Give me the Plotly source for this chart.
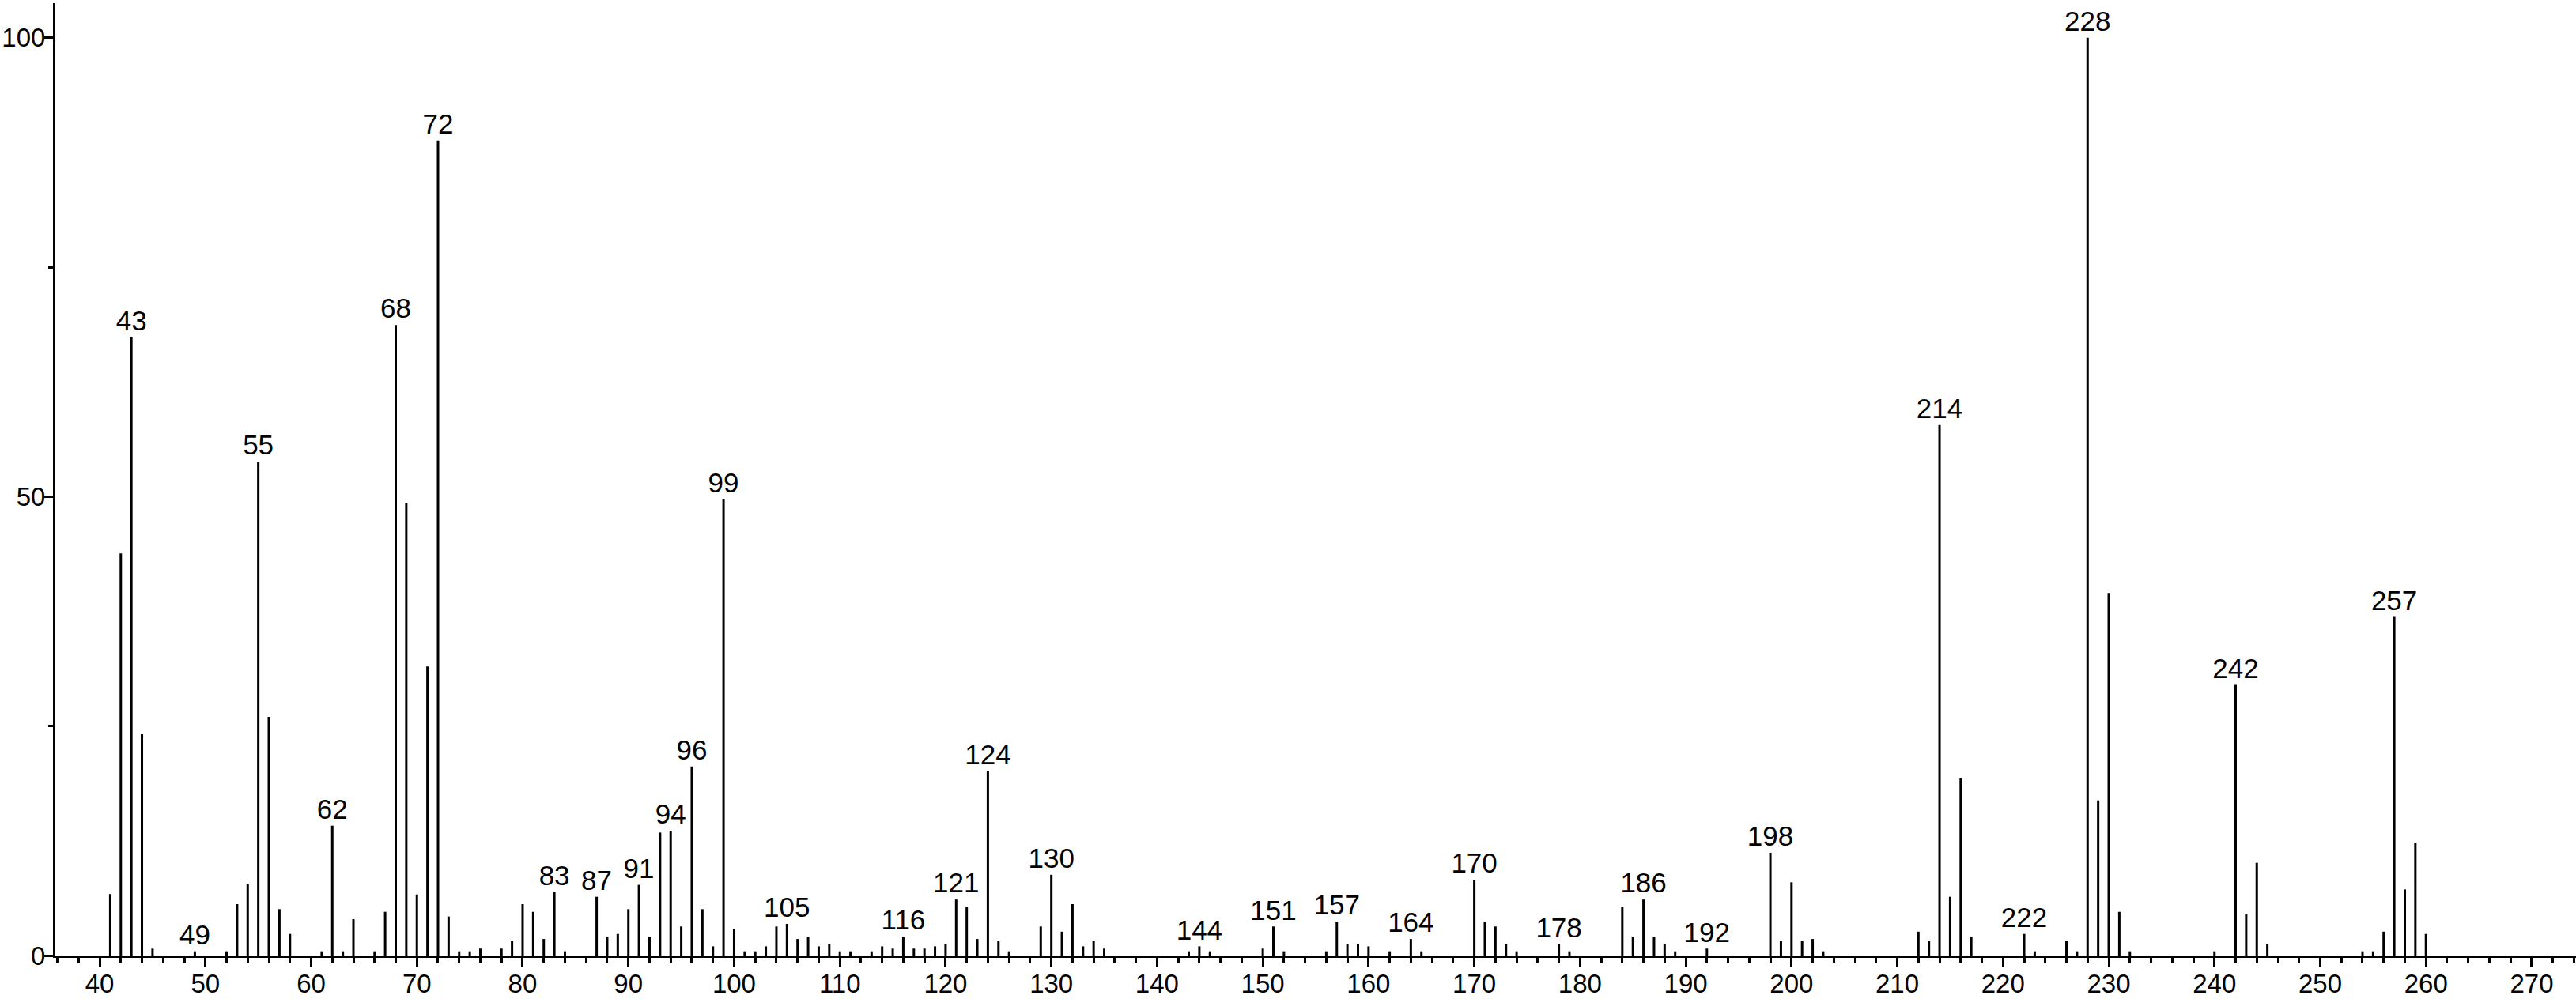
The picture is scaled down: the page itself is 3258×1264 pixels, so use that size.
import plotly.graph_objects as go

# m/z and relative abundance (%)
mz = [41, 42, 43, 44, 45, 49, 52, 53, 54, 55, 56, 57, 58, 61, 62, 63, 64, 66, 67, 68,
      69, 70, 71, 72, 73, 74, 75, 76, 78, 79, 80, 81, 82, 83, 84, 87, 88, 89, 90, 91,
      92, 93, 94, 95, 96, 97, 98, 99, 100, 101, 102, 103, 104, 105, 106, 107, 108, 109, 110, 111,
      113, 114, 115, 116, 117, 118, 119, 120, 121, 122, 123, 124, 125, 126, 129, 130, 131, 132, 133, 134,
      135, 143, 144, 145, 150, 151, 152, 156, 157, 158, 159, 160, 162, 164, 165, 170, 171, 172, 173, 174,
      178, 179, 184, 185, 186, 187, 188, 189, 192, 198, 199, 200, 201, 202, 203, 212, 213, 214, 215, 216,
      217, 222, 223, 226, 227, 228, 229, 230, 231, 232, 240, 242, 243, 244, 245, 254, 255, 256, 257, 258,
      259, 260]
intensity = [6.7, 43.8, 67.4, 24.1, 0.75, 0.46, 0.46, 5.6, 7.75, 53.8, 26.0, 5.05, 2.35, 0.46, 14.15, 0.46, 3.96, 0.46, 4.76, 68.7,
             49.3, 6.65, 31.5, 88.8, 4.25, 0.46, 0.46, 0.75, 0.75, 1.55, 5.6, 4.76, 1.8, 6.9, 0.46, 6.4, 2.07, 2.35, 5.05, 7.7,
             2.07, 13.4, 13.6, 3.16, 20.6, 5.05, 1.0, 49.7, 2.87, 0.46, 0.46, 1.0, 3.16, 3.44, 1.8, 2.07, 1.0, 1.26, 0.46, 0.46,
             0.46, 1.0, 0.75, 2.07, 0.75, 0.75, 1.0, 1.26, 6.1, 5.3, 1.8, 20.1, 1.55, 0.46, 3.16, 8.8, 2.6, 5.6, 1.0, 1.55,
             0.75, 0.46, 1.0, 0.46, 0.75, 3.16, 0.46, 0.46, 3.7, 1.26, 1.26, 1.0, 0.46, 1.8, 0.46, 8.26, 3.7, 3.16, 1.26, 0.46,
             1.26, 0.46, 5.3, 2.07, 6.1, 2.07, 1.26, 0.46, 0.75, 11.2, 1.55, 7.98, 1.55, 1.8, 0.46, 2.6, 1.55, 57.8, 6.4, 19.3,
             2.07, 2.35, 0.46, 1.55, 0.46, 100.0, 16.9, 39.5, 4.76, 0.46, 0.46, 29.5, 4.5, 10.1, 1.26, 0.46, 0.46, 2.6, 36.9, 7.2,
             12.3, 2.35]

# peaks carrying an m/z label
labeled = [43, 49, 55, 62, 68, 72, 83, 87, 91, 94, 96, 99, 105, 116, 121, 124, 130, 144,
           151, 157, 164, 170, 178, 186, 192, 198, 214, 222, 228, 242, 257]

FONT = "Liberation Sans, Arial, sans-serif"

# stick spectrum: one vertical segment per peak
xs, ys = [], []
for m, h in zip(mz, intensity):
    xs += [m, m, None]
    ys += [0, h, None]

peak = dict(zip(mz, intensity))

fig = go.Figure()
fig.add_trace(go.Scatter(
    x=xs, y=ys, mode="lines",
    line=dict(color="black", width=3),
    hoverinfo="skip", showlegend=False,
))
fig.add_trace(go.Scatter(
    x=labeled, y=[peak[m] for m in labeled],
    mode="text", text=[str(m) for m in labeled],
    textposition="top center",
    textfont=dict(family=FONT, size=35, color="black"),
    showlegend=False,
))

fig.update_layout(
    width=3258, height=1264,
    paper_bgcolor="white", plot_bgcolor="white",
    margin=dict(l=70, r=0, t=4, b=55),
    font=dict(family=FONT, size=33, color="black"),
    xaxis=dict(
        range=[35.81, 274.19],
        showgrid=False, zeroline=False,
        showline=True, linecolor="black", linewidth=3,
        ticks="outside", tickmode="linear", tick0=0, dtick=10,
        ticklen=12, tickwidth=3, tickcolor="black",
        ticklabelstandoff=-8,
        minor=dict(ticks="outside", tick0=0, dtick=2, ticklen=6, tickwidth=3, tickcolor="black"),
        tickfont=dict(family=FONT, size=33, color="black"),
        automargin=False,
    ),
    yaxis=dict(
        range=[0, 103.76],
        showgrid=False, zeroline=False,
        showline=True, linecolor="black", linewidth=3,
        ticks="outside", tickvals=[0, 50, 100],
        ticklen=11, tickwidth=3, tickcolor="black",
        ticklabelstandoff=-8,
        minor=dict(ticks="outside", tickvals=[25, 75], ticklen=6, tickwidth=3, tickcolor="black"),
        tickfont=dict(family=FONT, size=33, color="black"),
        automargin=False,
    ),
)

fig.write_html("out.html", config={"displayModeBar": False},
               post_script="document.body.style.margin='0';")
